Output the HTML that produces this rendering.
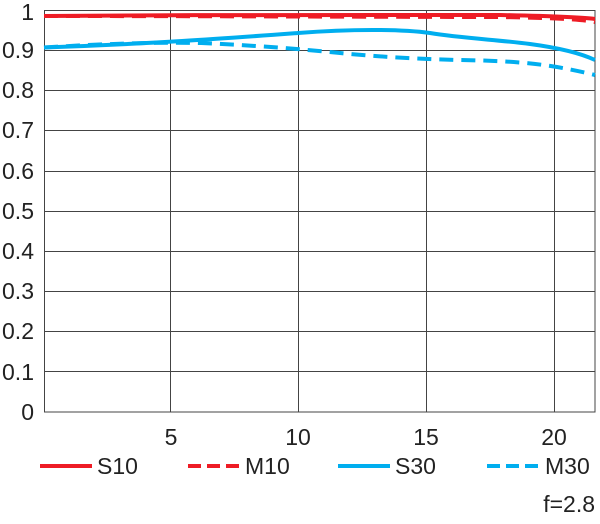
<!DOCTYPE html><html><head><style>body{margin:0;background:#fff}svg{display:block}text{font-family:"Liberation Sans",sans-serif;fill:#222}</style></head><body>
<svg width="600" height="524" viewBox="0 0 600 524">
<g stroke="#444" stroke-width="1" fill="none">
<path d="M44 50.5H595M44 90.5H595M44 130.5H595M44 171.5H595M44 211.5H595M44 251.5H595M44 291.5H595M44 331.5H595M44 371.5H595"/>
<path d="M170.5 10V412M298.5 10V412M426.5 10V412M554.5 10V412"/>
<rect x="44.5" y="10.5" width="550.5" height="401.5"/>
</g>
<g font-size="23" text-anchor="end">
<text x="34" y="20">1</text><text x="34" y="58">0.9</text><text x="34" y="98">0.8</text><text x="34" y="138">0.7</text><text x="34" y="179">0.6</text><text x="34" y="219">0.5</text><text x="34" y="259">0.4</text><text x="34" y="299">0.3</text><text x="34" y="339">0.2</text><text x="34" y="380">0.1</text><text x="34" y="420">0</text>
</g>
<g font-size="23" text-anchor="middle">
<text x="171" y="445">5</text><text x="298" y="445">10</text><text x="426" y="445">15</text><text x="554" y="445">20</text>
</g>
<g fill="none" stroke-width="4">
<path d="M44 47.5 C150 44 230 38 298 33 C350 29 400 29 430 33 C460 38 500 40 530 44 C560 48 580 53 595 60" stroke="#00aeef"/>
<path d="M44 47.5 C100 44 150 42 200 43 C250 45 300 49 340 53 C380 57 420 59 460 60 C520 61 550 64 595 75" stroke="#00aeef" stroke-dasharray="14,8"/>
<path d="M44 16 C200 15 400 14 500 15 C550 16 580 17 595 19" stroke="#ee1c25"/>
<path d="M44 16 C200 16 400 17 500 17 C550 18 580 19 595 22" stroke="#ee1c25" stroke-dasharray="14,8"/>
</g>
<g stroke-width="4">
<path d="M40 466H92" stroke="#ee1c25"/>
<path d="M188 466H240" stroke="#ee1c25" stroke-dasharray="13,6"/>
<path d="M338 466H390" stroke="#00aeef"/>
<path d="M487 466H539" stroke="#00aeef" stroke-dasharray="13,6"/>
</g>
<g font-size="23">
<text x="97" y="474">S10</text><text x="245" y="474">M10</text><text x="395" y="474">S30</text><text x="545" y="474">M30</text>
<text x="595" y="512" text-anchor="end">f=2.8</text>
</g>
</svg></body></html>
